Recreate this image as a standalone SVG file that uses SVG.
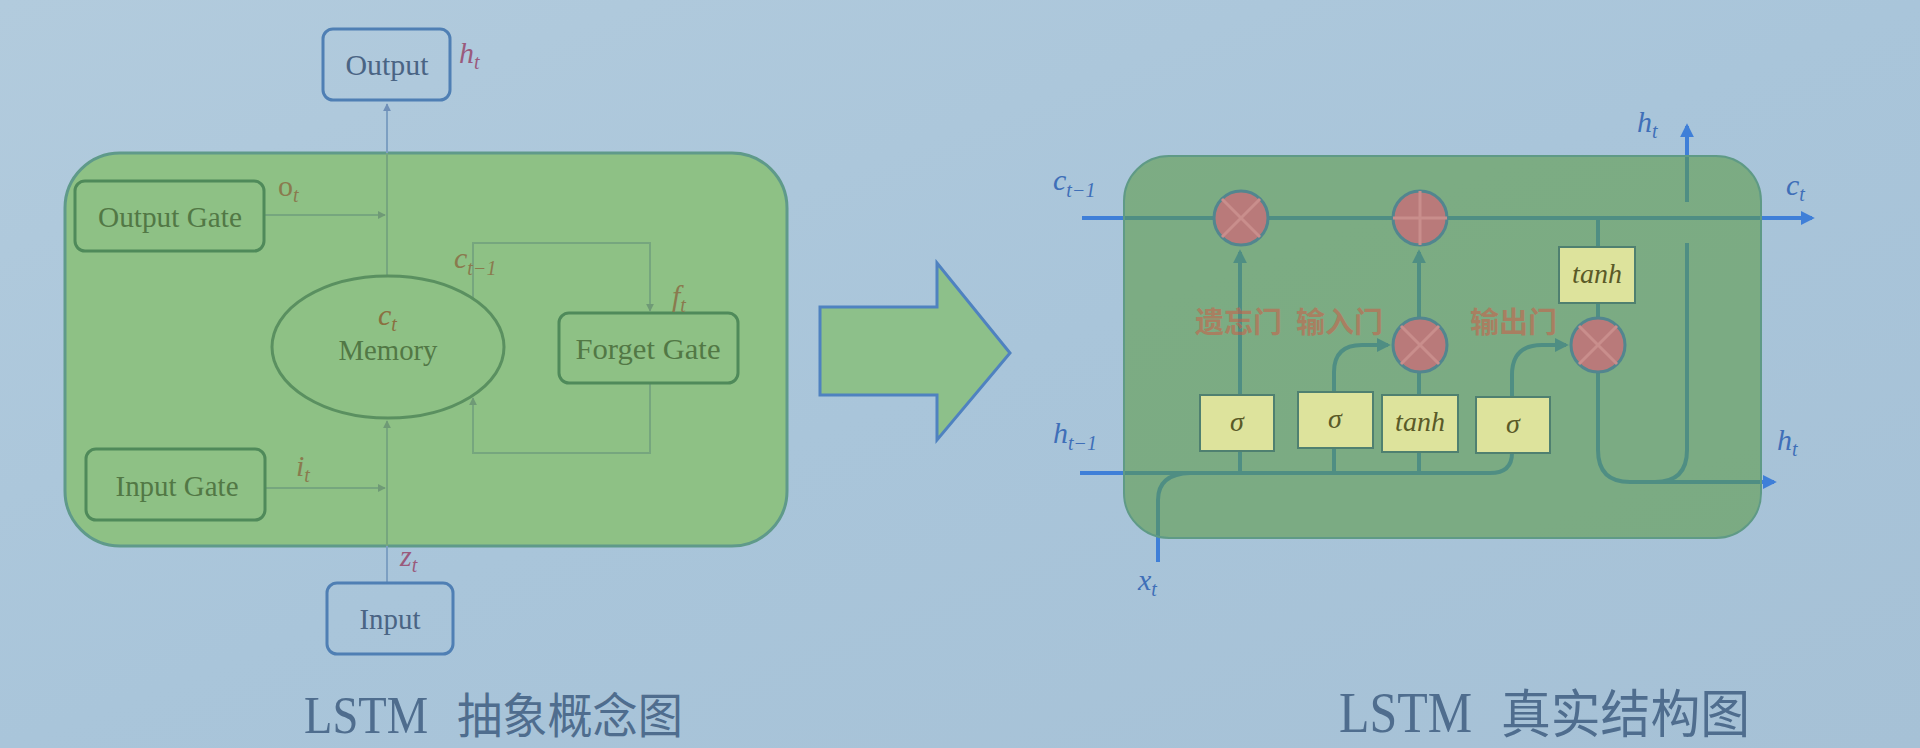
<svg xmlns="http://www.w3.org/2000/svg" width="1920" height="748" viewBox="0 0 1920 748">
<defs>
<linearGradient id="bg" x1="0" y1="0" x2="1" y2="1">
<stop offset="0" stop-color="#b2cbdd"/>
<stop offset="0.5" stop-color="#a9c5da"/>
<stop offset="1" stop-color="#a6c1d6"/>
</linearGradient>
<marker id="aL" viewBox="0 0 10 10" refX="9" refY="5" markerWidth="4" markerHeight="4" orient="auto"><path d="M0,0 L10,5 L0,10 z" fill="#6f9a76"/></marker>
<marker id="aLb" viewBox="0 0 10 10" refX="9" refY="5" markerWidth="4" markerHeight="4" orient="auto"><path d="M0,0 L10,5 L0,10 z" fill="#6f8fb8"/></marker>
<marker id="aR" viewBox="0 0 10 10" refX="8" refY="5" markerWidth="3.5" markerHeight="3.5" orient="auto"><path d="M0,0 L10,5 L0,10 z" fill="#3f7fd8"/></marker>
<style>
.lbox{fill:#8ec185;stroke:#4f8a5a;stroke-width:3}
.obox{fill:none;stroke:#4f7fb4;stroke-width:3}
.ltxt{font-family:"Liberation Serif",serif;font-size:30px;fill:#527845;text-anchor:middle}
.otxt{font-family:"Liberation Serif",serif;font-size:30px;fill:#4a6484;text-anchor:middle}
.lline{fill:none;stroke:#76a67e;stroke-width:2}
.bline{fill:none;stroke:#7c9fc2;stroke-width:2}
.math{font-family:"Liberation Serif",serif;font-style:italic}
.mL{font-size:30px;fill:#8a7a4e}
.mP{font-size:30px;fill:#9a5a7c}
.mR{font-size:30px;fill:#3f6fb8}
.sub{font-size:20px}
.rline{fill:none;stroke:#3f7fd8;stroke-width:4}
.circ{fill:#b97a7a;stroke:#52868f;stroke-width:3}
.cross{stroke:#c98e8c;stroke-width:3}
.ybox{fill:#dde39c;stroke:#4f8070;stroke-width:2}
.ytxt{font-family:"Liberation Serif",serif;font-style:italic;font-size:28px;fill:#5a5a28;text-anchor:middle}
.cn{font-family:"Noto Sans CJK SC",sans-serif;font-weight:700;font-size:29px;fill:#c9614a;opacity:0.58}
.cap{fill:#4f6d8e}
</style>
</defs>
<rect width="1920" height="748" fill="url(#bg)"/>

<!-- LEFT PANEL -->
<g id="left-container"><rect x="65" y="153" width="722" height="393" rx="55" fill="#8ec185" stroke="#5f9a8a" stroke-width="3"/></g>
<g id="left-connectors">
<path class="bline" d="M387,153 L387,104" marker-end="url(#aLb)"/>
<path class="lline" d="M387,276 L387,153"/>
<path class="lline" d="M264,215 L385,215" marker-end="url(#aL)"/>
<path class="lline" d="M265,488 L385,488" marker-end="url(#aL)"/>
<path class="bline" d="M387,583 L387,546"/>
<path class="lline" d="M387,546 L387,421" marker-end="url(#aL)"/>
<path class="lline" d="M473,299 L473,243 L650,243 L650,311" marker-end="url(#aL)"/>
<path class="lline" d="M650,383 L650,453 L473,453 L473,398" marker-end="url(#aL)"/>
</g>
<g id="output"><rect class="obox" x="323" y="29" width="127" height="71" rx="10"/><text class="otxt" x="387" y="75" textLength="83" lengthAdjust="spacingAndGlyphs">Output</text></g>
<g id="input"><rect class="obox" x="327" y="583" width="126" height="71" rx="10"/><text class="otxt" x="390" y="629" textLength="61" lengthAdjust="spacingAndGlyphs">Input</text></g>
<g id="output-gate"><rect class="lbox" x="75" y="181" width="189" height="70" rx="10"/><text class="ltxt" x="170" y="227" textLength="144" lengthAdjust="spacingAndGlyphs">Output Gate</text></g>
<g id="forget-gate"><rect class="lbox" x="559" y="313" width="179" height="70" rx="10"/><text class="ltxt" x="648" y="359" textLength="145" lengthAdjust="spacingAndGlyphs">Forget Gate</text></g>
<g id="input-gate"><rect class="lbox" x="86" y="449" width="179" height="71" rx="10"/><text class="ltxt" x="177" y="496" textLength="123" lengthAdjust="spacingAndGlyphs">Input Gate</text></g>
<g id="memory"><ellipse cx="388" cy="347" rx="116" ry="71" fill="none" stroke="#5a9060" stroke-width="3"/>
<text class="math" x="378" y="325" font-size="30" fill="#8a7040">c<tspan class="sub" dy="6">t</tspan></text>
<text class="ltxt" x="388" y="360" textLength="99" lengthAdjust="spacingAndGlyphs">Memory</text></g>
<g id="left-labels">
<text class="math mP" x="459" y="63">h<tspan class="sub" dy="6">t</tspan></text>
<text x="278" y="196" font-family="Liberation Serif,serif" font-size="30" fill="#8a7a4e">o<tspan class="sub" dy="6" font-style="italic">t</tspan></text>
<text class="math mL" x="454" y="268">c<tspan class="sub" dy="7">t−1</tspan></text>
<text class="math mL" x="672" y="306">f<tspan class="sub" dy="6">t</tspan></text>
<text class="math mL" x="296" y="476">i<tspan class="sub" dy="6">t</tspan></text>
<text class="math mP" x="400" y="566">z<tspan class="sub" dy="6">t</tspan></text>
</g>

<!-- BIG ARROW -->
<g id="transition-arrow"><polygon points="820,307 937,307 937,263 1010,353 937,440 937,395 820,395" fill="#8dc08a" stroke="#4f82c0" stroke-width="3" stroke-linejoin="miter"/></g>

<!-- RIGHT PANEL -->
<g id="right-connectors">
<path class="rline" d="M1082,218 L1812,218" marker-end="url(#aR)"/>
<path class="rline" d="M1080,473 L1490,473 Q1512,473 1512,453"/>
<path class="rline" d="M1158,562 L1158,500 Q1158,474 1190,473"/>
<path class="rline" d="M1240,473 L1240,450"/>
<path class="rline" d="M1240,395 L1240,252" marker-end="url(#aR)"/>
<path class="rline" d="M1334,473 L1334,448"/>
<path class="rline" d="M1334,392 L1334,372 Q1334,345 1362,345 L1388,345" marker-end="url(#aR)"/>
<path class="rline" d="M1419,473 L1419,452"/>
<path class="rline" d="M1419,395 L1419,372"/>
<path class="rline" d="M1419,318 L1419,252" marker-end="url(#aR)"/>
<path class="rline" d="M1512,397 L1512,375 Q1512,345 1542,345 L1566,345" marker-end="url(#aR)"/>
<path class="rline" d="M1598,218 L1598,247"/>
<path class="rline" d="M1598,303 L1598,320"/>
<path class="rline" d="M1598,372 L1598,450 Q1598,482 1630,482 L1774,482" marker-end="url(#aR)"/>
<path class="rline" d="M1655,482 Q1687,482 1687,450 L1687,243"/>
<path class="rline" d="M1687,202 L1687,126" marker-end="url(#aR)"/>
</g>
<g id="right-container"><rect x="1124" y="156" width="637" height="382" rx="45" fill="#5c9a45" fill-opacity="0.58" stroke="#5f9a86" stroke-width="2"/></g>
<g id="forget-mul"><circle class="circ" cx="1241" cy="218" r="27"/><path class="cross" d="M1222,199 L1260,237 M1260,199 L1222,237"/></g>
<g id="cell-add"><circle class="circ" cx="1420" cy="218" r="27"/><path class="cross" d="M1393,218 L1447,218 M1420,191 L1420,245"/></g>
<g id="input-mul"><circle class="circ" cx="1420" cy="345" r="27"/><path class="cross" d="M1401,326 L1439,364 M1439,326 L1401,364"/></g>
<g id="output-mul"><circle class="circ" cx="1598" cy="345" r="27"/><path class="cross" d="M1579,326 L1617,364 M1617,326 L1579,364"/></g>
<g id="sigma-forget"><rect class="ybox" x="1200" y="395" width="74" height="56"/><text class="ytxt" x="1237" y="431">σ</text></g>
<g id="sigma-input"><rect class="ybox" x="1298" y="392" width="75" height="56"/><text class="ytxt" x="1335" y="428">σ</text></g>
<g id="tanh-input"><rect class="ybox" x="1382" y="395" width="76" height="57"/><text class="ytxt" x="1420" y="431" font-size="26">tanh</text></g>
<g id="sigma-output"><rect class="ybox" x="1476" y="397" width="74" height="56"/><text class="ytxt" x="1513" y="433">σ</text></g>
<g id="tanh-cell"><rect class="ybox" x="1559" y="247" width="76" height="56"/><text class="ytxt" x="1597" y="283" font-size="26">tanh</text></g>
<g id="gate-labels">
<text class="cn" x="1195" y="333">遗忘门</text>
<text class="cn" x="1296" y="333">输入门</text>
<text class="cn" x="1470" y="333">输出门</text>
</g>
<g id="right-labels">
<text class="math mR" x="1053" y="190">c<tspan class="sub" dy="7">t−1</tspan></text>
<text class="math mR" x="1786" y="195">c<tspan class="sub" dy="6">t</tspan></text>
<text class="math mR" x="1637" y="132">h<tspan class="sub" dy="6">t</tspan></text>
<text class="math mR" x="1053" y="443">h<tspan class="sub" dy="7">t−1</tspan></text>
<text class="math mR" x="1777" y="450">h<tspan class="sub" dy="6">t</tspan></text>
<text class="math mR" x="1138" y="590">x<tspan class="sub" dy="6">t</tspan></text>
</g>

<!-- CAPTIONS -->
<g id="caption-left">
<text class="cap" x="304" y="733" font-family="Liberation Serif,serif" font-size="52" textLength="124" lengthAdjust="spacingAndGlyphs">LSTM</text>
<text class="cap" x="457" y="733" font-family="Noto Sans CJK SC,sans-serif" font-size="48" textLength="226" lengthAdjust="spacingAndGlyphs">抽象概念图</text>
</g>
<g id="caption-right">
<text class="cap" x="1339" y="732" font-family="Liberation Serif,serif" font-size="56" textLength="133" lengthAdjust="spacingAndGlyphs">LSTM</text>
<text class="cap" x="1501" y="733" font-family="Noto Sans CJK SC,sans-serif" font-size="52" textLength="249" lengthAdjust="spacingAndGlyphs">真实结构图</text>
</g>
</svg>
